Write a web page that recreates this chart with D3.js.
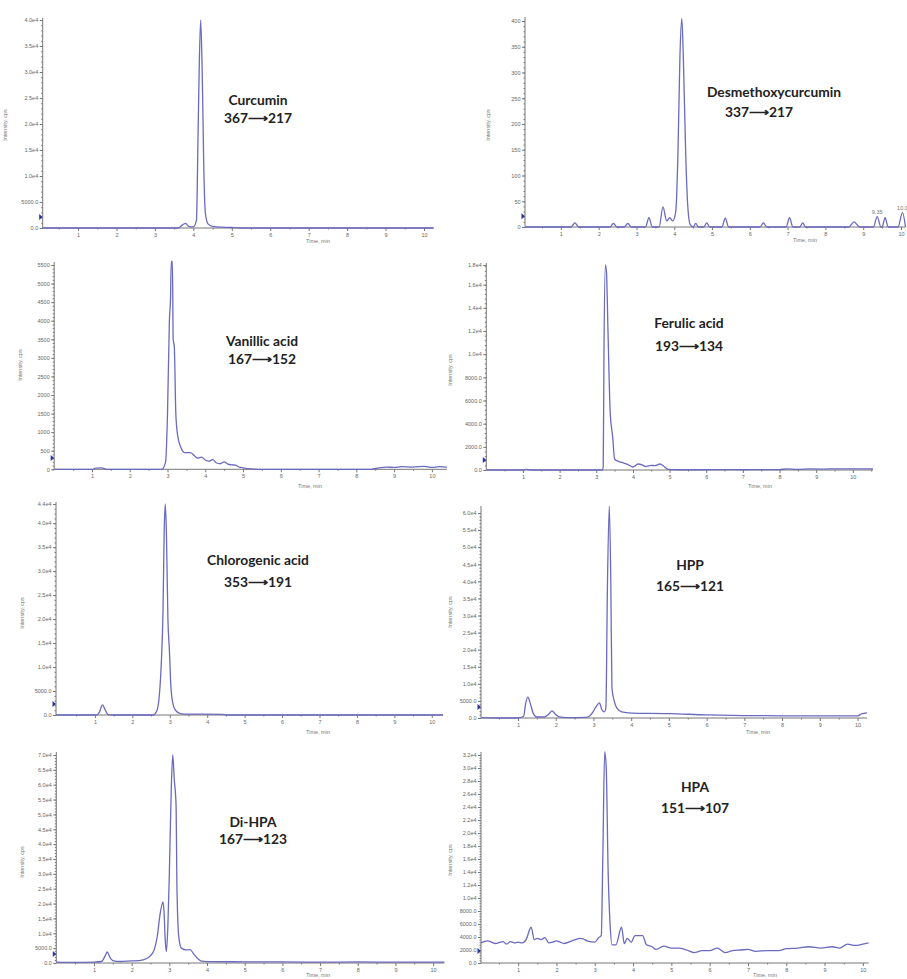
<!DOCTYPE html>
<html lang="en">
<head>
  <meta charset="UTF-8">
  <title>MRM chromatograms</title>
  <script src="https://d3js.org/d3.v7.min.js"></script>
  <style>
    body { margin: 0; background: #fff; }
    .tick text { font-family: "Liberation Sans", Arial; font-size: 5.5px; fill: #666; }
    .axis path, .axis line { stroke: #777; }
    .cmp { font-family: Lato, "Open Sans", sans-serif; font-weight: bold; font-size: 13.8px; fill: #222; text-anchor: middle; }
    .ttl { font-family: "Liberation Sans", Arial; font-size: 5.5px; fill: #777; text-anchor: middle; }
  </style>
</head>
<body>
  <script>
    // chromatogram traces: [time (min), intensity (cps)]
    const curcumin = [[0.08,0],[3.6,0],[3.72,600],[3.8,900],[3.88,300],[4.0,200],[4.08,1500],[4.12,17000],[4.15,30000],
      [4.19,40000],[4.23,30000],[4.27,12000],[4.31,3000],[4.38,800],[4.5,300],[4.7,150],[5.0,100],[5.2,0],[10.25,0]];
    const desmethoxy = [[0.05,0],[1.27,0],[1.37,8],[1.47,0],[2.3,0],[2.39,7],[2.48,0],[2.68,0],[2.77,7],[2.86,0],
      [3.24,0],[3.33,18],[3.42,0],[3.6,0],[3.7,39],[3.8,12],[3.88,18],[3.96,12],[4.04,30],[4.1,150],[4.15,330],
      [4.2,405],[4.24,330],[4.3,150],[4.35,50],[4.42,5],[4.5,0],[4.57,7],[4.64,0],[4.78,0],[4.86,8],[4.94,0],
      [5.26,0],[5.35,17],[5.44,0],[6.27,0],[6.36,8],[6.45,0],[6.96,0],[7.05,18],[7.14,0],[7.32,0],[7.4,8],[7.48,0],
      [8.62,0],[8.76,10],[8.9,0],[9.27,0],[9.37,20],[9.47,0],[9.5,0],[9.58,18],[9.66,0],[9.92,0],[10.04,28],[10.12,0]];
    const vanillic = [[0,0],[1.0,0],[1.1,30],[1.25,40],[1.4,0],[2.85,0],[2.95,200],[3.0,1500],[3.05,4000],[3.08,4600],
      [3.1,5600],[3.13,5600],[3.15,3500],[3.18,3300],[3.22,1500],[3.27,900],[3.35,600],[3.45,450],[3.6,450],[3.7,380],
      [3.8,300],[3.9,330],[4.0,250],[4.1,220],[4.2,260],[4.3,170],[4.4,150],[4.5,200],[4.6,140],[4.7,120],[4.8,110],
      [4.9,60],[5.0,40],[5.2,10],[5.4,0],[8.4,0],[8.6,40],[8.8,60],[9.0,50],[9.2,70],[9.5,60],[9.8,80],[10.0,50],
      [10.2,70],[10.4,60]];
    const ferulic = [[0,0],[1.0,0],[1.1,60],[1.2,0],[3.17,0],[3.19,300],[3.21,10000],[3.25,17700],[3.28,17000],
      [3.32,12000],[3.38,5000],[3.45,2800],[3.5,950],[3.6,750],[3.75,600],[3.88,450],[4.0,260],[4.14,520],[4.25,450],
      [4.35,300],[4.5,400],[4.6,380],[4.74,520],[4.85,300],[4.96,50],[5.2,20],[6.0,20],[6.5,40],[7.0,20],[7.5,40],
      [8.0,30],[8.2,100],[8.5,60],[8.8,90],[9.2,80],[9.6,100],[10.0,90],[10.55,100]];
    const chlorogenic = [[-0.04,0],[1.05,0],[1.12,600],[1.2,2100],[1.28,1000],[1.35,100],[1.5,0],[2.55,0],[2.65,800],
      [2.72,4000],[2.78,12000],[2.82,22000],[2.85,38000],[2.88,44000],[2.91,38000],[2.95,20000],[2.99,13500],
      [3.03,6000],[3.08,2500],[3.15,1000],[3.25,400],[3.4,200],[4.4,150],[4.5,0],[10.3,0]];
    const hpp = [[0.02,100],[0.5,0],[1.0,0],[1.15,500],[1.2,4000],[1.26,6100],[1.32,4500],[1.4,1500],[1.5,300],
      [1.7,300],[1.82,1200],[1.9,2100],[2.0,1000],[2.1,300],[2.3,100],[2.8,200],[2.9,600],[3.0,2000],[3.08,3500],
      [3.16,4400],[3.22,2500],[3.29,1800],[3.33,3000],[3.37,38000],[3.42,62000],[3.46,40000],[3.49,8800],
      [3.55,5000],[3.62,2900],[3.75,1800],[4.0,1450],[5.0,1300],[6.0,900],[7.0,700],[8.0,650],[9.0,600],
      [10.0,600],[10.1,1200],[10.25,1500]];
    const diHpa = [[0,300],[0.5,200],[1.0,300],[1.2,500],[1.3,2500],[1.35,3700],[1.42,2000],[1.5,800],[1.7,500],
      [2.0,700],[2.2,800],[2.4,1500],[2.5,2500],[2.6,4500],[2.68,9000],[2.75,16000],[2.83,20600],[2.86,17000],
      [2.89,8000],[2.92,3800],[2.96,12000],[3.0,30000],[3.05,58000],[3.09,70000],[3.13,62000],[3.18,52600],
      [3.2,27000],[3.25,8900],[3.32,5000],[3.45,4400],[3.55,4500],[3.65,3000],[3.75,1500],[3.85,600],[4.0,450],
      [5.0,400],[6.0,350],[7.0,300],[8.0,350],[9.0,300],[10.3,300]];
    const hpa = [[0.03,3100],[0.2,3400],[0.4,3000],[0.6,3300],[0.7,2900],[0.8,3300],[0.9,3100],[1.0,3200],[1.1,3100],
      [1.2,3500],[1.34,5500],[1.42,3600],[1.5,3800],[1.6,3600],[1.7,3900],[1.8,3100],[1.9,3200],[2.0,3400],[2.1,3200],
      [2.2,3000],[2.4,3400],[2.5,3600],[2.6,3800],[2.7,3700],[2.8,3400],[3.0,3200],[3.1,3900],[3.17,4200],[3.21,16000],
      [3.26,32500],[3.3,30000],[3.35,14000],[3.4,6000],[3.45,2800],[3.55,2800],[3.7,5500],[3.77,3000],[3.85,3800],
      [3.95,3200],[4.05,4200],[4.25,4200],[4.35,2800],[4.5,2500],[4.6,2100],[4.8,2600],[5.0,2300],[5.2,2300],[5.4,2000],
      [5.6,1600],[5.8,1900],[6.0,1900],[6.2,2300],[6.4,1600],[6.6,1900],[6.8,2000],[7.0,2100],[7.2,1800],[7.5,1900],
      [7.8,1900],[8.0,2200],[8.3,2300],[8.6,2500],[8.9,2300],[9.2,2500],[9.4,2300],[9.6,2900],[9.8,2700],[10.0,2900],
      [10.15,3100]];

    const compounds = ["Curcumin", "Desmethoxycurcumin", "Vanillic acid", "Ferulic acid",
      "Chlorogenic acid", "HPP", "Di-HPA", "HPA"];
    const transitions = ["367\u27F6217", "337\u27F6217", "167\u27F6152", "193\u27F6134",
      "353\u27F6191", "165\u27F6121", "167\u27F6123", "151\u27F6107"];
    const traces = [curcumin, desmethoxy, vanillic, ferulic, chlorogenic, hpp, diHpa, hpa];
    const yMax = [40000, 400, 5500, 17700, 44000, 60000, 70000, 32000];
    const thresholds = [2100, 21, 305, 860, 2290, 3200, 3000, 1850];

    // y tick values / labels (as printed by the software)
    const yTicks = [
      [0,5000,10000,15000,20000,25000,30000,35000,40000],
      [0,50,100,150,200,250,300,350,400],
      [0,500,1000,1500,2000,2500,3000,3500,4000,4500,5000,5500],
      [0,2000,4000,6000,8000,10000,12000,14000,16000,17700],
      [0,5000,10000,15000,20000,25000,30000,35000,40000,44000],
      [0,5000,10000,15000,20000,25000,30000,35000,40000,45000,50000,55000,60000],
      [0,5000,10000,15000,20000,25000,30000,35000,40000,45000,50000,55000,60000,65000,70000],
      [0,2000,4000,6000,8000,10000,12000,14000,16000,18000,20000,22000,24000,26000,28000,30000,32000]
    ];
    const xTicks = [1,2,3,4,5,6,7,8,9,10];
    const peakLabels = [["9.35", 9.37, 20], ["10.0", 10.04, 28]];

    // panel geometry: time range, pixel box
    const panels = [
      { t: [0.08, 10.25], x: [42.7, 433.6], y: [228, 20], top: 18, lab: [258, 105, 123], yt: [7, 125], xt: [318, 243], intTicks: false },
      { t: [0.05, 10.12], x: [525, 905.5], y: [227, 21], top: 17, lab: [774, 97, 117], yt: [490, 125], xt: [805, 242], intTicks: true },
      { t: [0, 10.4], x: [54.2, 447], y: [469.3, 265], top: 262, lab: [262, 346, 364], yt: [22, 365], xt: [310, 488], intTicks: true },
      { t: [0, 10.55], x: [486.3, 873], y: [470, 265], top: 263, lab: [689, 328, 351], yt: [452, 370], xt: [760, 488], intTicks: false },
      { t: [-0.04, 10.3], x: [56, 443], y: [715, 504], top: 502, lab: [258, 565, 587], yt: [24, 613], xt: [318, 734], intTicks: false },
      { t: [0.02, 10.25], x: [481, 867], y: [718, 513], top: 506, lab: [690, 570, 591], yt: [452, 612], xt: [758, 734], intTicks: false },
      { t: [0, 10.3], x: [56.3, 444.4], y: [963, 755], top: 752, lab: [253, 827, 844], yt: [24, 862], xt: [318, 977], intTicks: false },
      { t: [0.03, 10.15], x: [481, 868.6], y: [963, 755], top: 752, lab: [695, 792, 813], yt: [452, 860], xt: [765, 977], intTicks: false }
    ];

    const lineColor = "#6a6abf";

    function fmtTick(v, intTicks) {
      if (intTicks) return String(v);
      if (v < 10000) return v.toFixed(1);
      return (v / 10000).toFixed(1) + "e4";
    }

    const svg = d3.select("body").append("svg")
      .attr("width", 907)
      .attr("height", 979);

    panels.forEach((p, i) => {
      const x = d3.scaleLinear().domain(p.t).range(p.x);
      const y = d3.scaleLinear().domain([0, yMax[i]]).range(p.y);
      const g = svg.append("g");

      // minor y ticks
      const major = yTicks[i];
      const step = major[1] - major[0];
      const minor = [];
      for (let v = 0; v <= yMax[i]; v += step / 5) minor.push(v);
      g.append("g").attr("class", "axis")
        .attr("transform", `translate(${p.x[0]},0)`)
        .call(d3.axisLeft(y).tickValues(minor).tickSize(1.5).tickFormat(""))
        .call(a => a.select(".domain").remove());

      g.append("g").attr("class", "axis")
        .attr("transform", `translate(${p.x[0]},0)`)
        .call(d3.axisLeft(y).tickValues(major).tickSize(3).tickPadding(1.5)
          .tickFormat(v => (v === 17700 ? "1.8e4" : fmtTick(v, p.intTicks))))
        .call(a => a.select(".domain").attr("d", `M0,${p.top}V${p.y[0]}`));

      // x axis with half-minute minor ticks
      const xMinor = xTicks.map(t => t - 0.5).concat([10.5]).filter(t => t <= p.t[1]);
      g.append("g").attr("class", "axis")
        .attr("transform", `translate(0,${p.y[0]})`)
        .call(d3.axisBottom(x).tickValues(xMinor).tickSize(1.5).tickFormat(""))
        .call(a => a.select(".domain").remove());
      g.append("g").attr("class", "axis")
        .attr("transform", `translate(0,${p.y[0]})`)
        .call(d3.axisBottom(x).tickValues(xTicks.filter(t => t <= p.t[1])).tickSize(3).tickPadding(2))
        .call(a => a.select(".domain").attr("d", `M${p.x[0]},0H${p.x[1]}`));

      // trace
      const line = d3.line()
        .x(d => x(d[0]))
        .y(d => y(d[1]))
        .curve(d3.curveMonotoneX);
      g.append("path")
        .datum(traces[i])
        .attr("d", line)
        .attr("fill", "none")
        .attr("stroke", lineColor)
        .attr("stroke-width", 1.3);

      // threshold marker
      const ty = y(thresholds[i]);
      g.append("path")
        .attr("d", `M${p.x[0] - 3.5},${ty - 3}L${p.x[0]},${ty}L${p.x[0] - 3.5},${ty + 3}Z`)
        .attr("fill", "#2a3590");

      // axis titles
      g.append("text").attr("class", "ttl")
        .attr("transform", `translate(${p.yt[0]},${p.yt[1]}) rotate(-90)`)
        .text("Intensity, cps");
      g.append("text").attr("class", "ttl")
        .attr("x", p.xt[0]).attr("y", p.xt[1])
        .text("Time, min");

      // compound label
      g.append("text").attr("class", "cmp")
        .attr("x", p.lab[0]).attr("y", p.lab[1]).text(compounds[i]);
      g.append("text").attr("class", "cmp")
        .attr("x", i === 1 ? p.lab[0] - 15 : p.lab[0]).attr("y", p.lab[2]).text(transitions[i]);

      if (i === 1) {
        peakLabels.forEach(d => {
          g.append("text").attr("class", "ttl")
            .attr("x", x(d[1])).attr("y", y(d[2]) - 3)
            .text(d[0]);
        });
      }
    });
  </script>
</body>
</html>
